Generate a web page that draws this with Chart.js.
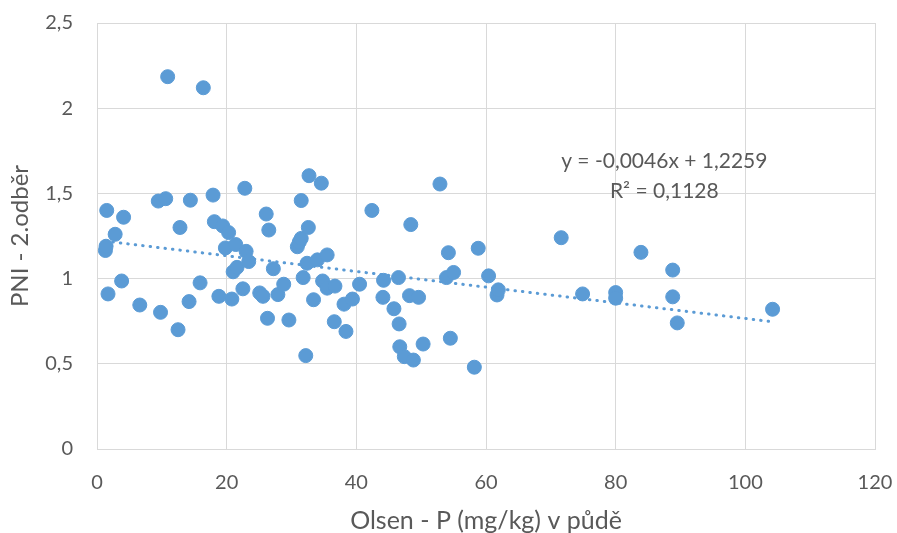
<!DOCTYPE html>
<html lang="cs">
<head>
<meta charset="utf-8">
<title>PNI - 2.odběr vs Olsen - P</title>
<script src="https://cdn.jsdelivr.net/npm/chart.js@4/dist/chart.umd.min.js"></script>
<style>
    html, body { margin: 0; padding: 0; background: #fff; }
    #wrap { width: 897px; height: 533px; }
</style>
</head>
<body>
<div id="wrap"><canvas id="graf" width="897" height="533"></canvas></div>
<script>
// data
const olsenP = [1.3, 1.4, 1.5, 1.7, 2.8, 3.8, 4.1, 6.6, 9.45, 9.8, 10.6, 10.9, 12.5, 12.8, 14.2, 14.4, 15.9, 16.4, 17.9, 18.1,
    18.8, 19.4, 19.8, 20.3, 20.8, 21.0, 21.4, 21.6, 22.5, 22.8, 23.0, 23.4, 25.1, 25.6, 26.1, 26.3, 26.5, 27.2, 27.9, 28.8,
    29.6, 30.9, 31.2, 31.5, 31.5, 31.8, 32.2, 32.4, 32.6, 32.7, 33.4, 34.0, 34.6, 34.8, 35.5, 35.5, 36.6, 36.7, 38.1, 38.4,
    39.4, 40.5, 42.4, 44.1, 44.2, 45.8, 46.5, 46.6, 46.7, 47.4, 48.2, 48.4, 48.8, 49.6, 50.3, 52.9, 53.9, 54.2, 54.5, 55.0,
    58.2, 58.8, 60.4, 61.7, 61.9, 71.6, 74.9, 80.0, 80.0, 83.9, 88.8, 88.8, 89.5, 104.2];
const pni = [1.165, 1.19, 1.40, 0.91, 1.26, 0.986, 1.36, 0.845, 1.455, 0.802, 1.469, 2.185, 0.70, 1.30, 0.865, 1.46, 0.975, 2.12, 1.49, 1.334,
    0.896, 1.309, 1.18, 1.27, 0.88, 1.04, 1.2, 1.066, 0.94, 1.53, 1.16, 1.1, 0.916, 0.896, 1.379, 0.767, 1.285, 1.058, 0.906, 0.967,
    0.757, 1.187, 1.215, 1.236, 1.458, 1.006, 0.548, 1.09, 1.30, 1.604, 0.876, 1.11, 1.56, 0.986, 0.944, 1.139, 0.747, 0.956, 0.85, 0.69,
    0.88, 0.967, 1.40, 0.89, 0.99, 0.823, 1.006, 0.734, 0.6, 0.542, 0.9, 1.317, 0.522, 0.89, 0.616, 1.555, 1.006, 1.152, 0.65, 1.036,
    0.48, 1.178, 1.016, 0.904, 0.934, 1.24, 0.91, 0.918, 0.885, 1.154, 1.05, 0.893, 0.74, 0.82];

// linear trend as printed on the chart
const trendSlope = -0.0046;
const trendIntercept = 1.2259;
const trendLabels = ['y = -0,0046x + 1,2259', 'R² = 0,1128'];

const xTicks = [0, 20, 40, 60, 80, 100, 120];
const yTicks = [0, 0.5, 1, 1.5, 2, 2.5];

const textColor = '#595959';
const gridColor = '#d9d9d9';
const pointColor = '#5b9bd5';
const fontFamily = "Lato, 'Open Sans', sans-serif";

const body = olsenP.map((x, i) => ({ x: x, y: pni[i] }));
const xMin = Math.min(...olsenP), xMax = Math.max(...olsenP);
const trend = [xMin, xMax].map(x => ({ x: x, y: trendSlope * x + trendIntercept }));

const fmt = v => String(v).replace('.', ',');

// equation text, placed in data units next to the trend line
const rovnicePlugin = {
    id: 'rovnice',
    afterDatasetsDraw(chart) {
        const { ctx, scales } = chart;
        const cx = scales.x.getPixelForValue(87.5);
        const cy = scales.y.getPixelForValue(1.69);
        ctx.save();
        ctx.fillStyle = textColor;
        ctx.font = `21px ${fontFamily}`;
        ctx.textAlign = 'center';
        ctx.textBaseline = 'middle';
        trendLabels.forEach((t, i) => ctx.fillText(t, cx, cy + i * 30));
        ctx.restore();
    }
};

// fixed axis boxes, no extra room for overhanging tick labels
const fitX = s => { s.height = 84; s.paddingLeft = 0; s.paddingRight = 0; };
const fitY = s => { s.width = 97; s.paddingTop = 0; s.paddingBottom = 0; };

new Chart(document.getElementById('graf'), {
    type: 'scatter',
    data: {
        datasets: [
            {
                label: 'PNI',
                data: body,
                backgroundColor: pointColor,
                borderColor: pointColor,
                borderWidth: 1,
                pointRadius: 7,
                pointHoverRadius: 7
            },
            {
                label: 'Lineární trend',
                type: 'line',
                data: trend,
                borderColor: pointColor,
                borderWidth: 3,
                borderDash: [0.5, 7],
                borderCapStyle: 'round',
                pointRadius: 0,
                fill: false
            }
        ]
    },
    options: {
        responsive: false,
        animation: false,
        devicePixelRatio: 1,
        layout: { padding: { top: 23, right: 22, bottom: 0, left: 0 } },
        plugins: {
            legend: { display: false },
            tooltip: { enabled: false }
        },
        scales: {
            x: {
                type: 'linear',
                min: 0, max: 120,
                afterBuildTicks: s => { s.ticks = xTicks.map(v => ({ value: v })); },
                afterFit: fitX,
                grid: { color: gridColor, drawTicks: false },
                border: { color: gridColor },
                ticks: { color: textColor, padding: 22, font: { family: fontFamily, size: 20 }, callback: fmt },
                title: { display: true, text: 'Olsen - P (mg/kg) v půdě', color: textColor,
                    font: { family: fontFamily, size: 25, lineHeight: 1 }, padding: { top: 0, bottom: 0 } }
            },
            y: {
                type: 'linear',
                min: 0, max: 2.5,
                afterBuildTicks: s => { s.ticks = yTicks.map(v => ({ value: v })); },
                afterFit: fitY,
                grid: { color: gridColor, drawTicks: false },
                border: { color: gridColor },
                ticks: { color: textColor, padding: 24, font: { family: fontFamily, size: 20 }, callback: fmt },
                title: { display: true, text: 'PNI - 2.odběr', color: textColor,
                    font: { family: fontFamily, size: 24, lineHeight: 1 }, padding: { top: 8, bottom: 0 } }
            }
        }
    },
    plugins: [rovnicePlugin]
});
</script>
</body>
</html>
